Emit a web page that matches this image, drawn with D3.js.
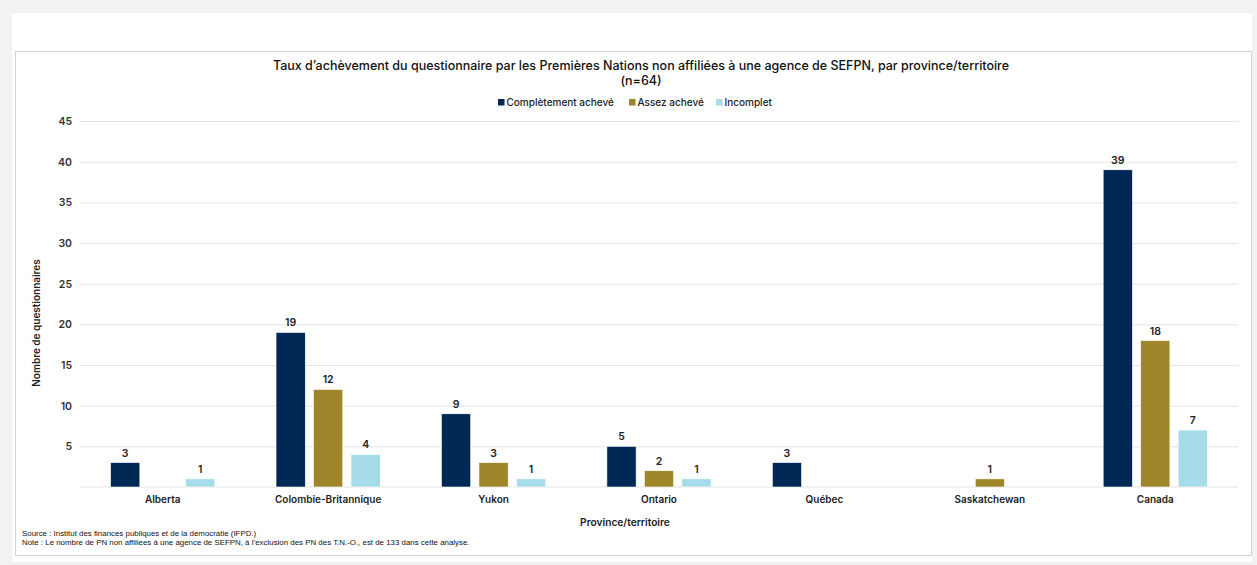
<!DOCTYPE html>
<html lang="fr">
<head>
<meta charset="utf-8">
<script src="https://cdn.jsdelivr.net/npm/d3@7"></script>
<style>
  html, body { margin: 0; padding: 0; background: #f2f2f2; }
  svg { display: block; }
</style>
</head>
<body>
<svg id="chart" width="1257" height="565"></svg>
<script>
// Provinces / territories shown on the x axis
const categories = ["Alberta", "Colombie-Britannique", "Yukon", "Ontario", "Québec", "Saskatchewan", "Canada"];
// Completion status series (null = no questionnaire in that status)
const seriesNames = ["Complètement achevé", "Assez achevé", "Incomplet"];
const completeValues = [3, 19, 9, 5, 3, null, 39];
const partialValues = [null, 12, 3, 2, null, 1, 18];
const incompleteValues = [1, 4, 1, 1, null, null, 7];
const yTicks = [5, 10, 15, 20, 25, 30, 35, 40, 45];
const colors = ["#002855", "#a0862a", "#a6dbe8"];

const seriesValues = [completeValues, partialValues, incompleteValues];
const rows = categories.map((c, i) => ({
  category: c,
  values: seriesNames.map((s, k) => ({ series: s, k, value: seriesValues[k][i] }))
}));

const svg = d3.select("#chart");
const font = "Inter, 'Open Sans', sans-serif";

// Page panel and chart frame
svg.append("rect").attr("x", 12).attr("y", 13).attr("width", 1240).attr("height", 549).attr("fill", "#ffffff");
svg.append("rect").attr("x", 15.5).attr("y", 51.5).attr("width", 1236).attr("height", 504)
  .attr("fill", "#ffffff").attr("stroke", "#d4d4d4").attr("stroke-width", 1);

const plot = { left: 80, right: 1238, top: 121, bottom: 487 };

const x0 = d3.scaleBand().domain(categories).range([plot.left, plot.right])
  .paddingInner(0.37).paddingOuter(0.185);
const x1 = d3.scaleBand().domain(seriesNames).range([0, x0.bandwidth()])
  .paddingInner(0.22).paddingOuter(0);
const y = d3.scaleLinear().domain([0, 45]).range([plot.bottom, plot.top]);

// Horizontal gridlines with value labels
const yAxis = d3.axisLeft(y).tickValues(yTicks).tickSize(-(plot.right - plot.left)).tickPadding(8);
const gy = svg.append("g").attr("transform", `translate(${plot.left},0)`).call(yAxis);
gy.select(".domain").remove();
gy.selectAll(".tick line").attr("stroke", "#e3e3e3").attr("stroke-width", 1);
gy.selectAll(".tick text").attr("font-family", font).attr("font-size", 10.5)
  .attr("font-weight", 600).attr("fill", "#333").attr("x", -8);

// Baseline
svg.append("line").attr("x1", plot.left).attr("x2", plot.right)
  .attr("y1", y(0)).attr("y2", y(0)).attr("stroke", "#e3e3e3").attr("stroke-width", 1);

// Category axis
const xAxis = d3.axisBottom(x0).tickSize(0).tickPadding(9);
const gx = svg.append("g").attr("transform", `translate(0,${plot.bottom})`).call(xAxis);
gx.select(".domain").remove();
gx.selectAll(".tick text").attr("font-family", font).attr("font-size", 10)
  .attr("font-weight", 600).attr("fill", "#222");

// Grouped bars
const groups = svg.append("g").selectAll("g").data(rows).join("g")
  .attr("transform", d => `translate(${x0(d.category)},0)`);

const present = d => d.values.filter(v => v.value != null);

groups.selectAll("rect").data(present).join("rect")
  .attr("x", d => x1(d.series))
  .attr("width", x1.bandwidth())
  .attr("y", d => y(d.value))
  .attr("height", d => y(0) - y(d.value))
  .attr("fill", d => colors[d.k])
  .attr("stroke", "#ffffff").attr("stroke-width", 0.6);

groups.selectAll("text.val").data(present).join("text")
  .attr("class", "val")
  .attr("x", d => x1(d.series) + x1.bandwidth() / 2)
  .attr("y", d => y(d.value) - 6)
  .attr("text-anchor", "middle")
  .attr("font-family", font).attr("font-size", 10.5).attr("font-weight", 600).attr("fill", "#222")
  .text(d => d.value);

// Title
const title = svg.append("text").attr("x", 641).attr("text-anchor", "middle")
  .attr("font-family", font).attr("font-size", 12.5).attr("font-weight", 500).attr("fill", "#111");
title.append("tspan").attr("x", 641).attr("y", 70)
  .text("Taux d’achèvement du questionnaire par les Premières Nations non affiliées à une agence de SEFPN, par province/territoire");
title.append("tspan").attr("x", 641).attr("y", 85).text("(n=64)");

// Legend
const legendX = [498, 629, 716];
const legend = svg.append("g").selectAll("g").data(seriesNames).join("g")
  .attr("transform", (d, i) => `translate(${legendX[i]},106)`);
legend.append("rect").attr("x", 0).attr("y", -7).attr("width", 6.5).attr("height", 6.5)
  .attr("fill", (d, i) => colors[i]);
legend.append("text").attr("x", 8.5).attr("y", 0)
  .attr("font-family", font).attr("font-size", 10).attr("font-weight", 500).attr("fill", "#222")
  .text(d => d);

// Axis titles
svg.append("text").attr("x", 625).attr("y", 526).attr("text-anchor", "middle")
  .attr("font-family", font).attr("font-size", 10.2).attr("font-weight", 600).attr("fill", "#222")
  .text("Province/territoire");
svg.append("text").attr("transform", "translate(40,323) rotate(-90)").attr("text-anchor", "middle")
  .attr("font-family", font).attr("font-size", 10).attr("font-weight", 600).attr("fill", "#222")
  .text("Nombre de questionnaires");

// Source and note
const notes = svg.append("g").attr("font-family", "'Liberation Sans', Arial, sans-serif")
  .attr("font-size", 7.9).attr("fill", "#111");
notes.append("text").attr("x", 22).attr("y", 536)
  .text("Source : Institut des finances publiques et de la démocratie (IFPD.)");
notes.append("text").attr("x", 22).attr("y", 545)
  .text("Note : Le nombre de PN non affiliées à une agence de SEFPN, à l’exclusion des PN des T.N.-O., est de 133 dans cette analyse.");
</script>
</body>
</html>
